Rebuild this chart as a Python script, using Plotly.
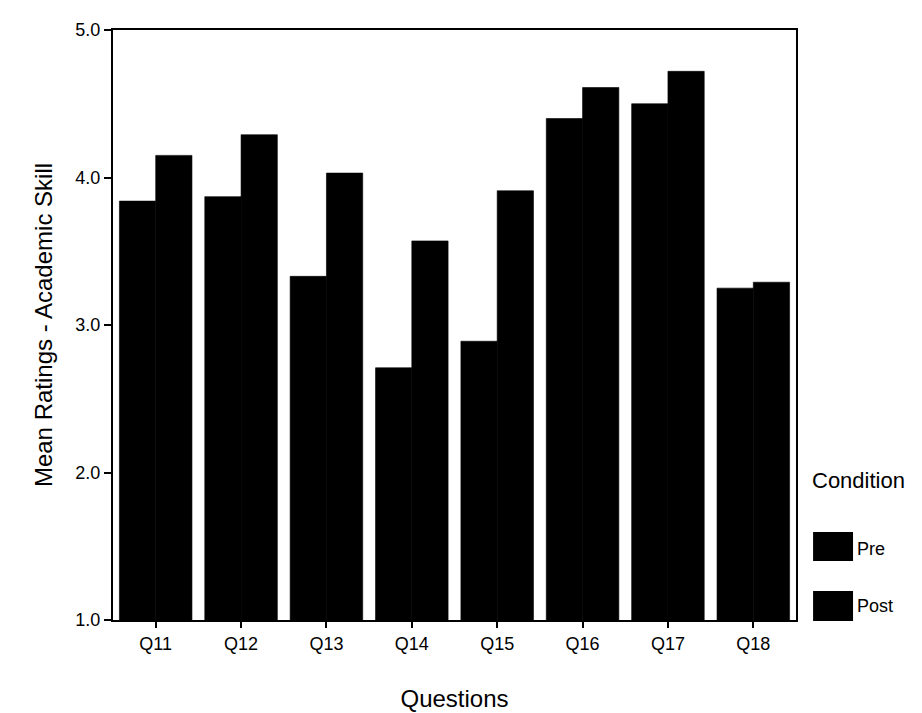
import plotly.graph_objects as go

questions = ["Q11", "Q12", "Q13", "Q14", "Q15", "Q16", "Q17", "Q18"]
pre_values = [3.84, 3.87, 3.33, 2.71, 2.89, 4.40, 4.50, 3.25]
post_values = [4.15, 4.29, 4.03, 3.57, 3.91, 4.61, 4.72, 3.29]
y_ticks = [1.0, 2.0, 3.0, 4.0, 5.0]
series_names = ["Pre", "Post"]

FONT = "Liberation Sans, Arial, sans-serif"

fig = go.Figure()
for name, vals in zip(series_names, [pre_values, post_values]):
    fig.add_trace(go.Bar(
        x=questions, y=vals, name=name,
        marker=dict(color="black", line=dict(color="black", width=0.6)),
        showlegend=False,
    ))

fig.update_layout(
    width=922, height=713,
    margin=dict(l=105, r=134, t=22, b=101),
    paper_bgcolor="white", plot_bgcolor="white",
    barmode="group", bargap=0.15, bargroupgap=0,
    font=dict(family=FONT, color="black", size=18),
)
fig.update_xaxes(
    showline=True, linecolor="black", linewidth=2, mirror=True,
    ticks="outside", ticklen=6, tickwidth=1.5, tickcolor="black",
    tickfont=dict(size=18, family=FONT),
    title=dict(text="Questions", font=dict(size=24, family=FONT), standoff=38),
    showgrid=False,
)
fig.update_yaxes(
    range=[1, 5], showline=True, linecolor="black", linewidth=2, mirror=True,
    tickmode="array", tickvals=y_ticks, ticktext=[f"{v:.1f}" for v in y_ticks],
    ticks="outside", ticklen=7, tickwidth=1.5, tickcolor="black",
    tickfont=dict(size=18, family=FONT),
    title=dict(text="Mean Ratings - Academic Skill", font=dict(size=24, family=FONT), standoff=16),
    showgrid=False, zeroline=False,
)

# Custom legend (large swatches like the original)
fig.add_annotation(x=1.025, y=0.237, xref="paper", yref="paper", text="Condition",
                   showarrow=False, xanchor="left", yanchor="middle", xshift=-3,
                   font=dict(size=22, family=FONT))
legend_rows = [(0.149, 0.100, 0.12), (0.049, -0.0017, 0.024)]
for name, (y0, y1, ty) in zip(series_names, legend_rows):
    fig.add_shape(type="rect", xref="paper", yref="paper", x0=1.025, x1=1.0835,
                  y0=y1, y1=y0, fillcolor="black", line=dict(width=0))
    fig.add_annotation(x=1.091, y=ty, xref="paper", yref="paper", text=name,
                       showarrow=False, xanchor="left", yanchor="middle", xshift=-3,
                       font=dict(size=18, family=FONT))

fig.write_html("out.html")
